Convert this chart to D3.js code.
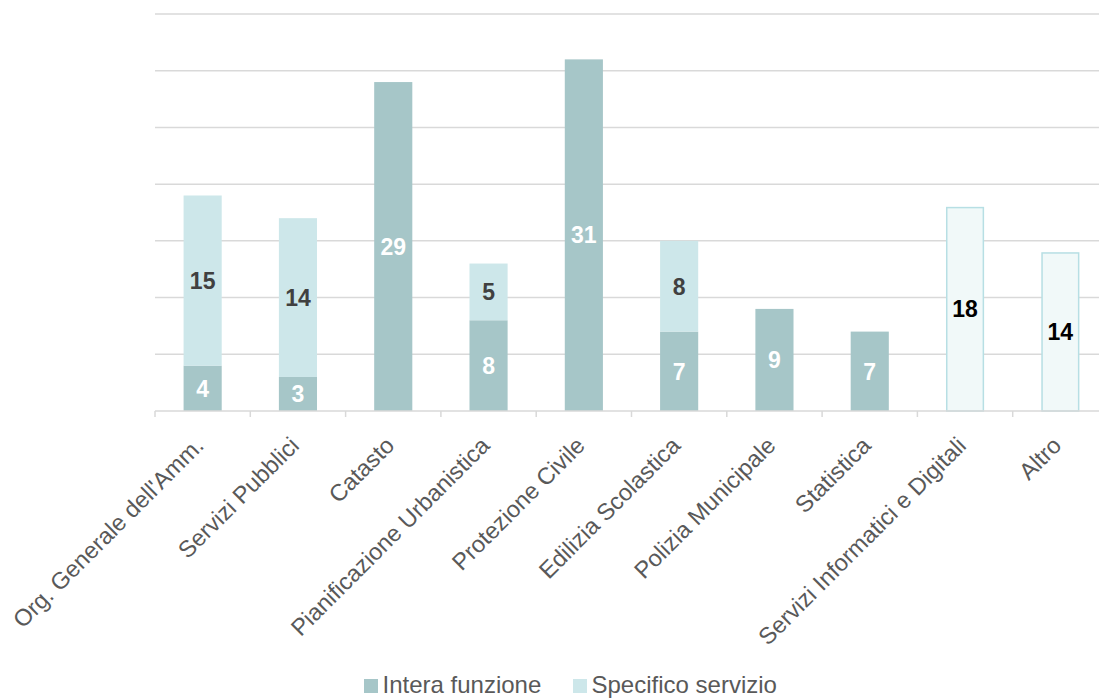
<!DOCTYPE html>
<html>
<head>
<meta charset="utf-8">
<script src="https://cdn.jsdelivr.net/npm/d3@7"></script>
<style>
  html, body { margin: 0; padding: 0; background: #ffffff; }
  svg { display: block; font-family: "Liberation Sans", Arial, sans-serif; }
</style>
</head>
<body>
<svg id="chart" width="1099" height="698"></svg>
<script>
// Functions (categories) and the two stacked series
const categories = [
  "Org. Generale dell'Amm.",
  "Servizi Pubblici",
  "Catasto",
  "Pianificazione Urbanistica",
  "Protezione Civile",
  "Edilizia Scolastica",
  "Polizia Municipale",
  "Statistica",
  "Servizi Informatici e Digitali",
  "Altro"
];
const interaFunzione    = [4, 3, 29, 8, 31, 7, 9, 7, 0, 0];
const specificoServizio = [15, 14, 0, 5, 0, 8, 0, 0, 0, 0];
// Categories counted as a single total (drawn as outlined bars)
const totaleAltro       = [0, 0, 0, 0, 0, 0, 0, 0, 18, 14];
const seriesNames = ["Intera funzione", "Specifico servizio"];
const gridValues = [0, 5, 10, 15, 20, 25, 30, 35];

const svg = d3.select("#chart");
const margin = { left: 155, right: 1108, top: 14, bottom: 411 };

const x = d3.scaleBand()
  .domain(categories)
  .range([margin.left, margin.right])
  .paddingInner(0.6)
  .paddingOuter(0.3);

const y = d3.scaleLinear()
  .domain([0, 35])
  .range([margin.bottom, margin.top]);

const colInt = "#a6c6c8";
const colSpec = "#cde7ea";

// Horizontal gridlines
svg.append("g")
  .selectAll("line")
  .data(gridValues.slice(1))
  .join("line")
  .attr("x1", margin.left)
  .attr("x2", 1099)
  .attr("y1", d => y(d))
  .attr("y2", d => y(d))
  .attr("stroke", "#d9d9d9")
  .attr("stroke-width", 1.5);

const rows = categories.map((c, i) => ({
  cat: c, a: interaFunzione[i], b: specificoServizio[i], t: totaleAltro[i]
}));

const bars = svg.append("g");

// Intera funzione segment
bars.selectAll("rect.int")
  .data(rows.filter(d => d.a > 0))
  .join("rect")
  .attr("class", "int")
  .attr("x", d => x(d.cat))
  .attr("width", x.bandwidth())
  .attr("y", d => y(d.a))
  .attr("height", d => y(0) - y(d.a))
  .attr("fill", colInt);

// Specifico servizio segment stacked on top
bars.selectAll("rect.spec")
  .data(rows.filter(d => d.b > 0))
  .join("rect")
  .attr("class", "spec")
  .attr("x", d => x(d.cat))
  .attr("width", x.bandwidth())
  .attr("y", d => y(d.a + d.b))
  .attr("height", d => y(d.a) - y(d.a + d.b))
  .attr("fill", colSpec);

// Outlined total bars
bars.selectAll("rect.tot")
  .data(rows.filter(d => d.t > 0))
  .join("rect")
  .attr("class", "tot")
  .attr("x", d => x(d.cat) + 0.75)
  .attr("width", x.bandwidth() - 1.5)
  .attr("y", d => y(d.t) + 0.75)
  .attr("height", d => y(0) - y(d.t) - 0.75)
  .attr("fill", "#f1f9f9")
  .attr("stroke", "#b7dfe4")
  .attr("stroke-width", 1.5);

// Value labels
const labels = svg.append("g")
  .attr("font-weight", "bold")
  .attr("font-size", 23)
  .attr("text-anchor", "middle");

labels.selectAll("text.int")
  .data(rows.filter(d => d.a > 0))
  .join("text")
  .attr("x", d => x(d.cat) + x.bandwidth() / 2)
  .attr("y", d => (y(0) + y(d.a)) / 2)
  .attr("dy", "0.36em")
  .attr("fill", "#ffffff")
  .text(d => d.a);

labels.selectAll("text.spec")
  .data(rows.filter(d => d.b > 0))
  .join("text")
  .attr("x", d => x(d.cat) + x.bandwidth() / 2)
  .attr("y", d => (y(d.a) + y(d.a + d.b)) / 2)
  .attr("dy", "0.36em")
  .attr("fill", "#404040")
  .text(d => d.b);

labels.selectAll("text.tot")
  .data(rows.filter(d => d.t > 0))
  .join("text")
  .attr("x", d => x(d.cat) + x.bandwidth() / 2)
  .attr("y", d => (y(0) + y(d.t)) / 2)
  .attr("dy", "0.36em")
  .attr("fill", "#000000")
  .text(d => d.t);

// Category axis
const xAxis = svg.append("g")
  .attr("transform", `translate(0,${y(0)})`);

xAxis.append("line")
  .attr("x1", margin.left).attr("x2", 1099)
  .attr("y1", 0).attr("y2", 0)
  .attr("stroke", "#d9d9d9").attr("stroke-width", 1.5);

const step = x.step();
const boundaries = d3.range(categories.length + 1).map(i => margin.left + i * step);
xAxis.selectAll("line.tick")
  .data(boundaries)
  .join("line")
  .attr("class", "tick")
  .attr("x1", d => d).attr("x2", d => d)
  .attr("y1", 0).attr("y2", 6)
  .attr("stroke", "#d9d9d9").attr("stroke-width", 1.5);

xAxis.selectAll("text")
  .data(categories)
  .join("text")
  .attr("transform", d => `translate(${x(d) + x.bandwidth() / 2 + 2.5},${36}) rotate(-45)`)
  .attr("text-anchor", "end")
  .attr("font-size", 23.5)
  .attr("fill", "#595959")
  .text(d => d);

// Legend
const legend = svg.append("g").attr("transform", "translate(364,679)");
const legendItems = [
  { name: seriesNames[0], color: colInt, x: 0 },
  { name: seriesNames[1], color: colSpec, x: 209 }
];
const li = legend.selectAll("g")
  .data(legendItems)
  .join("g")
  .attr("transform", d => `translate(${d.x},0)`);
li.append("rect")
  .attr("width", 14).attr("height", 14)
  .attr("fill", d => d.color);
li.append("text")
  .attr("x", 18.5)
  .attr("y", 14)
  .attr("font-size", 24)
  .attr("fill", "#595959")
  .text(d => d.name);
</script>
</body>
</html>
